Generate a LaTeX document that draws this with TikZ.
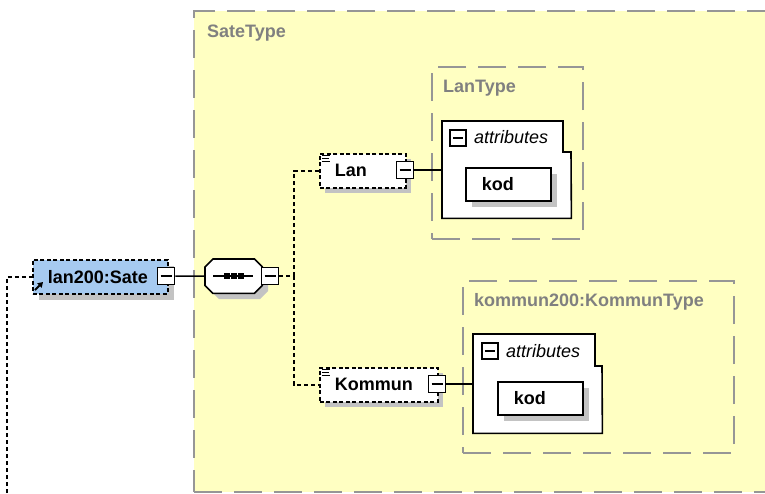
\documentclass[tikz,border=0pt]{standalone}
\usepackage{fontspec}
\setmainfont{Liberation Sans}
\usetikzlibrary{arrows.meta}
\definecolor{bgyellow}{RGB}{255,255,194}
\definecolor{elemblue}{RGB}{166,202,240}
\definecolor{typegray}{RGB}{150,150,150}
\definecolor{labelgray}{RGB}{128,128,128}
\definecolor{shadowc}{RGB}{195,195,195}
\begin{document}
\begin{tikzpicture}[x=1pt,y=-1pt,
  typebox/.style={draw=typegray, line width=2pt, dash pattern=on 28pt off 12pt, rectangle, inner sep=0pt, anchor=north west},
  typelabel/.style={text=labelgray, font=\fontsize{18}{20}\selectfont\bfseries, anchor=west, inner sep=0pt},
  elem/.style={draw=black, line width=1.6pt, dash pattern=on 4pt off 2.5pt, fill=white, rectangle, inner ysep=0pt, inner xsep=15pt, minimum height=34pt, align=left, font=\fontsize{18}{20}\selectfont\bfseries, anchor=north west},
  attrel/.style={draw=black, line width=1.6pt, fill=white, rectangle, inner ysep=0pt, inner xsep=16pt, minimum height=33pt, text width=53pt, align=left, font=\fontsize{18}{20}\selectfont\bfseries, anchor=north west},
  minusbox/.style={draw=black, line width=1.6pt, fill=white, rectangle, minimum size=17pt, inner sep=0pt,
    path picture={\draw[line width=1.4pt] ([xshift=3pt]path picture bounding box.west) -- ([xshift=-3pt]path picture bounding box.east);}},
  attrtext/.style={font=\fontsize{18}{20}\selectfont\itshape, anchor=west, inner sep=0pt},
  solidconn/.style={draw=black, line width=1.5pt},
  dashconn/.style={draw=black, line width=1.5pt, dash pattern=on 4pt off 3pt},
  blank/.style={inner sep=0pt, rectangle, anchor=north west},
  shadowfill/.style={fill=shadowc, draw=none},
  docicon/.style={draw=black, line width=1pt}
]
\useasboundingbox (0,0) rectangle (765,493);
\clip (0,0) rectangle (765,493);

% type containers
\node[typebox, fill=bgyellow, minimum width=610pt, minimum height=481pt] (satetype) at (193,10) {};
\node[typelabel] (satetypelabel) at (207,33) {SateType};
\node[typebox, minimum width=151pt, minimum height=172pt] (lantype) at (431,66) {};
\node[typelabel] (lantypelabel) at (443,88) {LanType};
\node[typebox, minimum width=271pt, minimum height=172pt] (kommuntype) at (462,280) {};
\node[typelabel] (kommuntypelabel) at (474,302) {kommun200:KommunType};

% root element lan200:Sate
\fill[shadowfill] (39,266) rectangle (174,300);
\node[elem, fill=elemblue, text width=105pt] (sate) at (32,259) {lan200:Sate};
\draw[line width=2pt, -{Triangle[length=5pt,width=6pt]}] (35,290) -- (43,282);
\node[minusbox] (satem) at (166,276) {};

% sequence compositor
\node[blank, minimum width=57pt, minimum height=34pt] (seq) at (205,259) {};
\fill[shadowfill] (219,265) -- (260,265) -- (268,273) -- (268,291) -- (260,299) -- (219,299) -- (211,291) -- (211,273) -- cycle;
\draw[black, line width=1.6pt, fill=white] ([xshift=8pt]seq.north west) -- ([xshift=-8pt]seq.north east) -- ([yshift=-8pt]seq.north east) -- ([yshift=8pt]seq.south east) -- ([xshift=-8pt]seq.south east) -- ([xshift=8pt]seq.south west) -- ([yshift=8pt]seq.south west) -- ([yshift=-8pt]seq.north west) -- cycle;
\draw[line width=1.3pt] (213,276) -- (253,276);
\foreach \dx in {227,234,241} { \fill (\dx-3,273) rectangle (\dx+3,279); }
\node[minusbox] (seqm) at (270,276) {};

% connectors
\coordinate (bot) at (7,493);
\coordinate (jn) at (294,276);
\draw[dashconn] (bot) |- (sate.west);
\draw[solidconn] (satem.east) -- (seq.west);
\draw[dashconn] (seqm.east) -- (jn);

% Lan element
\fill[shadowfill] (325,159) rectangle (411,193);
\node[elem, text width=56pt] (lan) at (319,153) {Lan};
\draw[dashconn] (jn) |- (lan.west);
\draw[docicon] (322,155) -- (330,155) (322,158) -- (329,158) (322,161) -- (330,161);
\node[minusbox] (lanm) at (405,170) {};

% Kommun element
\fill[shadowfill] (325,373) rectangle (443,407);
\node[elem, text width=88pt] (kommun) at (319,367) {Kommun};
\draw[dashconn] (jn) |- (kommun.west);
\draw[docicon] (322,369) -- (330,369) (322,372) -- (329,372) (322,375) -- (330,375);
\node[minusbox] (kommunm) at (437,384) {};

% Lan attributes
\node[blank, minimum width=129pt, minimum height=97pt] (attr1) at (442,121) {};
\draw[black, line width=1.6pt, fill=white] (attr1.north west) -- (563,121) -- (563,152) -- (571,152) -- (attr1.south east) -- (attr1.south west) -- cycle;
\node[minusbox, minimum size=16pt] (attr1m) at (458,138) {};
\node[attrtext] (attr1t) at (474,137) {attributes};
\fill[shadowfill] (472,174) rectangle (557,207);
\node[attrel] (kod1) at (465,167) {kod};
\draw[solidconn] (lanm.east) -- (lanm.east -| attr1.west);

% Kommun attributes
\node[blank, minimum width=129pt, minimum height=99pt] (attr2) at (473,334) {};
\draw[black, line width=1.6pt, fill=white] (attr2.north west) -- (595,334) -- (595,366) -- (602,366) -- (attr2.south east) -- (attr2.south west) -- cycle;
\node[minusbox, minimum size=16pt] (attr2m) at (490,351) {};
\node[attrtext] (attr2t) at (506,351) {attributes};
\fill[shadowfill] (504,388) rectangle (589,421);
\node[attrel] (kod2) at (497,381) {kod};
\draw[solidconn] (kommunm.east) -- (kommunm.east -| attr2.west);
\end{tikzpicture}
\end{document}
